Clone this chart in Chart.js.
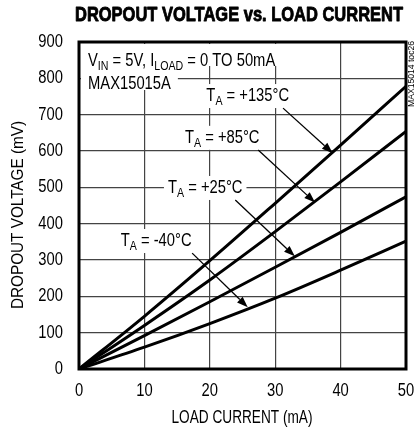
<!DOCTYPE html>
<html>
<head>
<meta charset="utf-8">
<script src="https://cdn.jsdelivr.net/npm/chart.js@4/dist/chart.umd.min.js"></script>
<style>
  html, body { margin: 0; padding: 0; background: #fff; }
  #wrap { width: 416px; height: 433px; position: relative; }
</style>
</head>
<body>
<div id="wrap"><canvas id="chart"></canvas></div>
<script>
// load current (mA) and dropout voltage (mV)
const loadCurrent = [0, 10, 20, 30, 40, 50];
const dropout135 = [0, 145, 298, 456, 616, 778];
const dropout85 = [0, 120, 245, 378, 515, 654];
const dropout25 = [0, 92, 185, 280, 376, 474];
const dropoutM40 = [0, 60, 125, 195, 272, 352];

const seriesNames = ['+135°C', '+85°C', '+25°C', '-40°C'];
const seriesValues = [dropout135, dropout85, dropout25, dropoutM40];

const xTitle = 'LOAD CURRENT (mA)';
const yTitle = 'DROPOUT VOLTAGE (mV)';
const chartTitle = 'DROPOUT VOLTAGE vs. LOAD CURRENT';

var FONT = "'Liberation Sans', Arial, sans-serif";
var SQUEEZE = 0.82; // condensed look, fonts here have no narrow face

// label centre, arrow start and arrow tip, in data units
var annotations = [
  { name: seriesNames[0], at: [25.8, 754], from: [31.2, 718], to: [38.8, 594] },
  { name: seriesNames[1], at: [21.9, 639], from: [27.4, 603], to: [36.1, 458] },
  { name: seriesNames[2], at: [19.3, 501], from: [23.9, 465], to: [33.0, 310] },
  { name: seriesNames[3], at: [11.8, 355], from: [17.3, 319], to: [25.8, 170] },
];

var makePoints = values => values.map((v, i) => ({ x: loadCurrent[i], y: v }));

// text squeezed sideways; align is left / center / right
var squeezedText = (ctx, text, x, y, size, align, opts = {}) => {
  ctx.save();
  ctx.font = (opts.bold ? 'bold ' : '') + size + 'px ' + FONT;
  ctx.textAlign = align;
  ctx.textBaseline = 'middle';
  ctx.fillStyle = '#000';
  ctx.translate(x, y);
  if (opts.rotate) ctx.rotate(opts.rotate);
  var sx = SQUEEZE;
  if (opts.width) sx = opts.width / ctx.measureText(text).width;
  ctx.scale(sx, 1);
  ctx.fillText(text, 0, 0);
  if (opts.heavy) {
    ctx.strokeStyle = '#000';
    ctx.lineWidth = opts.heavy;
    ctx.lineJoin = 'round';
    ctx.strokeText(text, 0, 0);
  }
  ctx.restore();
};

// parts is a list of {t, sub}; returns squeezed width
var partsWidth = (ctx, parts, size) => {
  var w = 0;
  for (const p of parts) {
    ctx.font = (p.sub ? size * 0.72 : size) + 'px ' + FONT;
    w += ctx.measureText(p.t).width;
  }
  return w * SQUEEZE;
};

// y is the baseline
var drawParts = (ctx, parts, x, y, size) => {
  ctx.save();
  ctx.translate(x, y);
  ctx.scale(SQUEEZE, 1);
  ctx.textAlign = 'left';
  ctx.textBaseline = 'alphabetic';
  ctx.fillStyle = '#000';
  var cx = 0;
  for (const p of parts) {
    if (p.sub) {
      ctx.font = (size * 0.72) + 'px ' + FONT;
      ctx.fillText(p.t, cx, size * 0.2);
    } else {
      ctx.font = size + 'px ' + FONT;
      ctx.fillText(p.t, cx, 0);
    }
    cx += ctx.measureText(p.t).width;
  }
  ctx.restore();
};

var drawArrow = (ctx, x1, y1, x2, y2) => {
  var ang = Math.atan2(y2 - y1, x2 - x1);
  var len = 11, half = 4;
  var c = Math.cos(ang), s = Math.sin(ang);
  ctx.strokeStyle = '#000';
  ctx.lineWidth = 1.3;
  ctx.beginPath();
  ctx.moveTo(x1, y1);
  ctx.lineTo(x2 - c * len, y2 - s * len);
  ctx.stroke();
  ctx.fillStyle = '#000';
  ctx.beginPath();
  ctx.moveTo(x2, y2);
  ctx.lineTo(x2 - c * len - s * half, y2 - s * len + c * half);
  ctx.lineTo(x2 - c * len + s * half, y2 - s * len - c * half);
  ctx.closePath();
  ctx.fill();
};

var decorations = {
  id: 'decorations',
  beforeDatasetsDraw(chart) {
    var ctx = chart.ctx;
    var xs = chart.scales.x, ys = chart.scales.y;
    var area = chart.chartArea;
    var size = 18;
    var cap = size * 0.716;
    ctx.save();

    // condition text in top-left corner
    var line1 = [{ t: 'V' }, { t: 'IN', sub: true }, { t: ' = 5V, I' }, { t: 'LOAD', sub: true }, { t: ' = 0 TO 50mA' }];
    var line2 = [{ t: 'MAX15015A' }];
    var left = area.left + 9;
    ctx.fillStyle = '#fff';
    ctx.fillRect(area.left + 2, area.top + 2, partsWidth(ctx, line1, size) + 12, 22);
    ctx.fillStyle = '#fff';
    ctx.fillRect(area.left + 2, area.top + 24, partsWidth(ctx, line2, size) + 14, 24);
    drawParts(ctx, line1, left, area.top + 24, size);
    drawParts(ctx, line2, left, area.top + 47, size);

    // temperature labels
    for (const a of annotations) {
      var parts = [{ t: 'T' }, { t: 'A', sub: true }, { t: ' = ' + a.name }];
      var w = partsWidth(ctx, parts, size);
      var cx = xs.getPixelForValue(a.at[0]);
      var cy = ys.getPixelForValue(a.at[1]);
      ctx.fillStyle = '#fff';
      ctx.fillRect(cx - w / 2 - 4, cy - 11, w + 8, 24);
      drawParts(ctx, parts, cx - w / 2, cy + cap / 2, size);
    }
    ctx.restore();
  },
  afterDatasetsDraw(chart) {
    var ctx = chart.ctx;
    var xs = chart.scales.x, ys = chart.scales.y;
    var area = chart.chartArea;
    ctx.save();
    for (const a of annotations) {
      drawArrow(ctx,
        xs.getPixelForValue(a.from[0]), ys.getPixelForValue(a.from[1]),
        xs.getPixelForValue(a.to[0]), ys.getPixelForValue(a.to[1]));
    }
    // heavy frame round the plot
    ctx.strokeStyle = '#000';
    ctx.lineWidth = 3;
    ctx.strokeRect(area.left, area.top, area.right - area.left, area.bottom - area.top);
    ctx.restore();

    // tick labels from the scales
    for (const t of xs.ticks) {
      squeezedText(ctx, t.label, xs.getPixelForValue(t.value), area.bottom + 22, 18, 'center');
    }
    for (const t of ys.ticks) {
      squeezedText(ctx, t.label, area.left - 16, ys.getPixelForValue(t.value), 18, 'right');
    }

    // axis titles and chart title
    squeezedText(ctx, xTitle, 242, 418, 17.5, 'center', { width: 141 });
    squeezedText(ctx, yTitle, 18, 215, 16.5, 'center', { width: 188, rotate: -Math.PI / 2 });
    squeezedText(ctx, chartTitle, 239, 15, 21, 'center', { bold: true, width: 328, heavy: 0.9 });

    // figure id on the right edge
    squeezedText(ctx, 'MAX15014 toc26', 412, 74, 9, 'center', { rotate: -Math.PI / 2, width: 66 });
  }
};

var datasets = seriesValues.map((values, i) => ({
  label: seriesNames[i],
  data: makePoints(values),
  borderColor: '#000',
  borderWidth: 3,
  pointRadius: 0,
  cubicInterpolationMode: 'monotone',
  fill: false,
}));

new Chart(document.getElementById('chart'), {
  type: 'line',
  data: { datasets: datasets },
  options: {
    responsive: true,
    maintainAspectRatio: false,
    animation: false,
    layout: { padding: { top: 42, right: 10, left: 0, bottom: 0 } },
    plugins: { legend: { display: false }, tooltip: { enabled: false } },
    scales: {
      x: {
        type: 'linear',
        min: 0,
        max: 50,
        ticks: { stepSize: 10, display: false },
        grid: { color: '#444', lineWidth: 1.2, drawTicks: false },
        border: { display: false },
        afterFit: scale => { scale.height = 64; },
      },
      y: {
        min: 0,
        max: 900,
        ticks: { stepSize: 100, display: false },
        grid: { color: '#444', lineWidth: 1.2, drawTicks: false },
        border: { display: false },
        afterFit: scale => { scale.width = 79; },
      },
    },
  },
  plugins: [decorations],
});
</script>
</body>
</html>
